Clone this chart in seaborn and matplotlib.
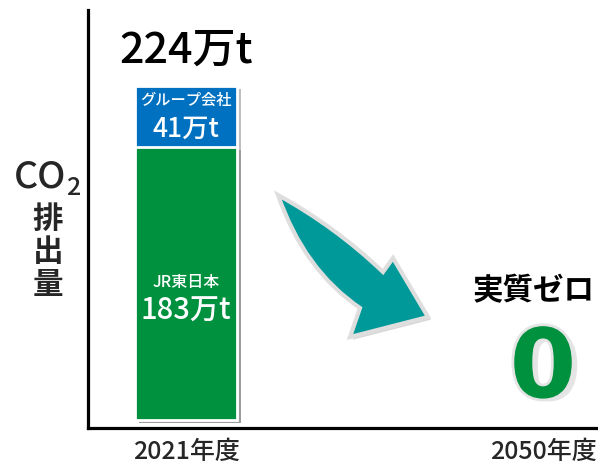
import numpy as np
import pandas as pd
import matplotlib
matplotlib.use("Agg")
import matplotlib.pyplot as plt
import matplotlib.patheffects as pe
import matplotlib.transforms as mtransforms
from matplotlib.path import Path
from matplotlib.patches import PathPatch
import seaborn as sns

# chart values (万t)
years = ["2021年度", "2050年度"]
jr_east = [183, 0]
group_cos = [41, 0]
totals = [224, 0]
seg_names = ["JR東日本", "グループ会社"]
total_labels = ["224万t", "実質ゼロ"]

GREEN = "#00913f"
BLUE = "#0070c0"
TEAL = "#009999"

sns.set_style("white")
plt.rcParams['font.family'] = ['Noto Sans CJK JP', 'DejaVu Sans']

df = pd.DataFrame({"year": years, "jr": jr_east, "group": group_cos, "total": totals})

fig = plt.figure(figsize=(5.98, 4.68), dpi=100)
ax = fig.add_axes([88 / 598, 40 / 468, 510 / 598, 418 / 468])

bar_w = 0.286
shadow = [pe.SimplePatchShadow(offset=(3, -2), shadow_rgbFace="0.45", alpha=0.45), pe.Normal()]

# stacked bar: total (blue) underneath, JR East (green) over it
sns.barplot(data=df, x="year", y="total", color=BLUE, saturation=1, width=bar_w,
            edgecolor="white", linewidth=2, ax=ax)
sns.barplot(data=df, x="year", y="jr", color=GREEN, saturation=1, width=bar_w,
            edgecolor="white", linewidth=2, ax=ax)
for p in ax.patches:
    if p.get_height() > 0:
        p.set_path_effects(shadow)

ax.set_xlim(-0.275, 1.154)
ax.set_ylim(-5.4, 275)

# segment labels
for i in range(len(years)):
    if totals[i] == 0:
        continue
    jr, gr = jr_east[i], group_cos[i]
    ax.text(i, jr + gr * 0.76, seg_names[1], color="white", ha="center", va="center",
            fontsize=11, fontweight="medium")
    ax.text(i, jr + gr * 0.30, f"{gr}万t", color="white", ha="center", va="center",
            fontsize=19, fontweight="medium")
    ax.text(i, jr * 0.505, seg_names[0], color="white", ha="center", va="center",
            fontsize=11.5, fontweight="medium")
    ax.text(i, jr * 0.40, f"{jr}万t", color="white", ha="center", va="center",
            fontsize=21, fontweight="medium")
    ax.text(i, totals[i] + 24, total_labels[0], color="black", ha="center", va="center",
            fontsize=31, fontweight="medium")

# 2050: zero
ax.text(1, totals[1] + 33, str(totals[1]), color=GREEN, ha="center", va="center",
        fontsize=69, fontweight="bold", family="DejaVu Sans",
        path_effects=[pe.SimplePatchShadow(offset=(4, -2), shadow_rgbFace="0.6", alpha=0.25),
                      pe.Stroke(linewidth=4, foreground="#e4e4e4"), pe.Normal()])
ax.text(0.975, 86.5, total_labels[1], color="black", ha="center", va="center",
        fontsize=22, fontweight="bold")

# curved arrow between the two years (figure pixel coords)
px = mtransforms.Affine2D().scale(1 / 598, -1 / 468).translate(0, 1) + fig.transFigure
verts = [(278, 195), (336, 227), (383, 272), (393, 258), (428, 317),
         (350, 337), (360, 308), (304, 270), (278, 195), (278, 195)]
codes = [Path.MOVETO, Path.CURVE3, Path.CURVE3, Path.LINETO, Path.LINETO,
         Path.LINETO, Path.LINETO, Path.CURVE3, Path.CURVE3, Path.CLOSEPOLY]
arrow = PathPatch(Path(verts, codes), facecolor=TEAL, edgecolor="#dedede", linewidth=3,
                  joinstyle="miter", transform=px, clip_on=False,
                  path_effects=[pe.SimplePatchShadow(offset=(2, -2), shadow_rgbFace="0.5", alpha=0.3),
                                pe.Normal()])
fig.patches.append(arrow)

# axes styling
sns.despine(ax=ax, top=True, right=True)
for s in ["left", "bottom"]:
    ax.spines[s].set_color("black")
    ax.spines[s].set_linewidth(2.3)
ax.set_yticks([])
ax.set_xticks(range(len(years)))
ax.set_xticklabels(years, fontsize=18, fontweight="medium")
ax.tick_params(axis="x", length=0, pad=8)
ax.set_xlabel("")
ax.set_ylabel("")

# y label: CO2 排出量
fig.text(40 / 598, 1 - 177 / 468, "CO", ha="center", va="center", fontsize=27, fontweight="medium")
fig.text(73 / 598, 1 - 188 / 468, "2", ha="center", va="center", fontsize=18, fontweight="medium")
fig.text(48 / 598, 1 - 252 / 468, "排\n出\n量", ha="center", va="center", fontsize=22,
         fontweight="bold", linespacing=1.05)

fig.savefig("out.png", dpi=100)
